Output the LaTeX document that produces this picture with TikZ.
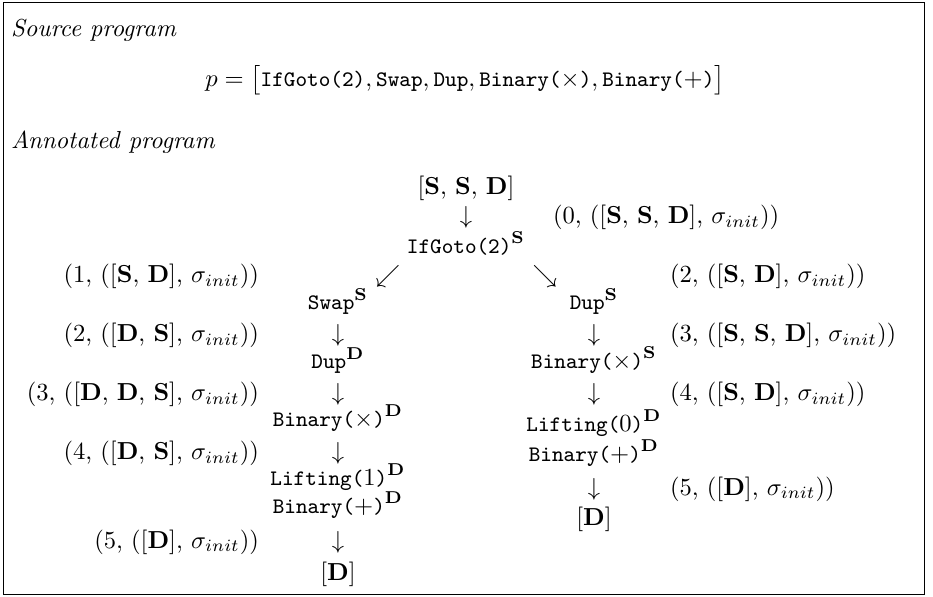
\documentclass[tikz,border=0pt]{standalone}
\newcommand\tto[1]{\mbox{\fontsize{9}{10}\selectfont\ttfamily #1}}
\newcommand\bS{\textbf{S}}
\newcommand\bD{\textbf{D}}
\newcommand\sig{$\sigma_{init}$}
\begin{document}
\begin{tikzpicture}[x=0.4067pt,y=-0.4067pt,
  lbl/.style={inner sep=0pt,outer sep=0pt,anchor=base},
  lann/.style={lbl,anchor=base east},
  rann/.style={lbl,anchor=base west}]
\useasboundingbox (0,0) rectangle (933,597);
\draw[line width=0.4pt] (3,2) rectangle (924.5,594.5);
% headings
\node[rann] (src) at (11,36) {\textit{Source program}};
\node[lbl] (prog) at (465,86) {$p = \bigl[\tto{IfGoto(2)}, \tto{Swap}, \tto{Dup}, \tto{Binary(}{\times}\tto{)}, \tto{Binary(}{+}\tto{)}\bigr]$};
\node[rann] (ann) at (11,148) {\textit{Annotated program}};
% root
\node[lbl] (s0) at (466,194) {[\bS, \bS, \bD]};
\node[lbl] (d1) at (466,223.5) {$\downarrow$};
\node[rann] (a0) at (553,223.5) {(0, ([\bS, \bS, \bD], \sig))};
\node[lbl] (ifg) at (466,253) {$\tto{IfGoto(2)}^{\mathbf{S}}$};
\node[lbl] (sw) at (388,282.5) {$\swarrow$};
\node[lbl] (se) at (545,282.5) {$\searrow$};
\node[lann] (l1) at (259,282.5) {(1, ([\bS, \bD], \sig))};
\node[rann] (r2) at (670,282.5) {(2, ([\bS, \bD], \sig))};
% left branch
\node[lbl] (lswap) at (338,309) {$\tto{Swap}^{\mathbf{S}}$};
\node[lbl] (ld5) at (338,341.5) {$\downarrow$};
\node[lann] (l2) at (259,341.5) {(2, ([\bD, \bS], \sig))};
\node[lbl] (ldup) at (338,368) {$\tto{Dup}^{\mathbf{D}}$};
\node[lbl] (ld7) at (338,400.5) {$\downarrow$};
\node[lann] (l3) at (259,400.5) {(3, ([\bD, \bD, \bS], \sig))};
\node[lbl] (lmul) at (338,426) {$\tto{Binary(}{\times}\tto{)}^{\mathbf{D}}$};
\node[lbl] (ld9) at (338,459.5) {$\downarrow$};
\node[lann] (l4) at (259,459.5) {(4, ([\bD, \bS], \sig))};
\node[lbl] (llift) at (338,485) {$\tto{Lifting(}1\tto{)}^{\mathbf{D}}$};
\node[lbl] (ladd) at (338,513) {$\tto{Binary(}{+}\tto{)}^{\mathbf{D}}$};
\node[lbl] (ld12) at (338,548) {$\downarrow$};
\node[lann] (l5) at (259,548) {(5, ([\bD], \sig))};
\node[lbl] (lend) at (338,580.5) {[\bD]};
% right branch
\node[lbl] (rdup) at (594,309) {$\tto{Dup}^{\mathbf{S}}$};
\node[lbl] (rd5) at (594,341.5) {$\downarrow$};
\node[rann] (r3) at (670,341.5) {(3, ([\bS, \bS, \bD], \sig))};
\node[lbl] (rmul) at (594,368) {$\tto{Binary(}{\times}\tto{)}^{\mathbf{S}}$};
\node[lbl] (rd7) at (594,400.5) {$\downarrow$};
\node[rann] (r4) at (670,400.5) {(4, ([\bS, \bD], \sig))};
\node[lbl] (rlift) at (594,431) {$\tto{Lifting(}0\tto{)}^{\mathbf{D}}$};
\node[lbl] (radd) at (594,461) {$\tto{Binary(}{+}\tto{)}^{\mathbf{D}}$};
\node[lbl] (rd10) at (594,495) {$\downarrow$};
\node[rann] (r5) at (670,495) {(5, ([\bD], \sig))};
\node[lbl] (rend) at (594,525) {[\bD]};
\end{tikzpicture}
\end{document}
